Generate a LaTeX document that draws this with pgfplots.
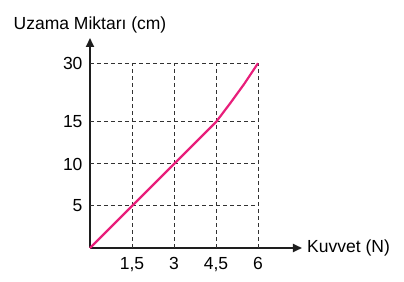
\documentclass[border=0pt]{standalone}
\usepackage{pgfplots}
\pgfplotsset{compat=1.18}
\usepackage{fontspec}
\setmainfont{Liberation Sans}
\usetikzlibrary{arrows.meta}
\definecolor{pinkline}{RGB}{232,30,122}
\definecolor{axisgray}{RGB}{30,30,30}
\definecolor{gridgray}{RGB}{50,50,50}
\begin{document}
\fontsize{17.5}{20}\selectfont
\begin{tikzpicture}[x=1pt,y=1pt]
\useasboundingbox (-90,-33) rectangle (314,248);
\begin{axis}[
  at={(0,0)}, anchor=origin,
  scale only axis, width=212pt, height=210pt,
  xmin=0, xmax=7.57, ymin=0, ymax=25,
  axis lines=left,
  axis line style={line width=1.9pt, color=axisgray, -{Triangle[length=9pt,width=8pt]}},
  xtick={1.5,3,4.5,6}, xticklabels={{1,5},3,{4,5},6},
  ytick={5,10,15,22}, yticklabels={5,10,15,30},
  major tick length=0pt,
  tick style={draw=none},
  /pgf/number format/assume math mode=true,
  ticklabel style={font=\fontsize{17.5}{20}\selectfont, text=black},
  xticklabel style={yshift=-3pt},
  yticklabel style={xshift=-1.5pt},
  xlabel={Kuvvet (N)}, ylabel={Uzama Miktarı (cm)},
  xlabel style={at={(axis description cs:1,0)}, anchor=west, inner sep=0pt, xshift=5pt, font=\fontsize{17.5}{20}\selectfont},
  ylabel style={rotate=-90, at={(axis description cs:0,1)}, anchor=south, inner sep=0pt, yshift=5pt, font=\fontsize{17.5}{20}\selectfont},
  clip=false,
]
\addplot[gridgray, line width=1pt, dash pattern=on 4pt off 3pt] coordinates {(1.5,0) (1.5,22)};
\addplot[gridgray, line width=1pt, dash pattern=on 4pt off 3pt] coordinates {(3,0) (3,22)};
\addplot[gridgray, line width=1pt, dash pattern=on 4pt off 3pt] coordinates {(4.5,0) (4.5,22)};
\addplot[gridgray, line width=1pt, dash pattern=on 4pt off 3pt] coordinates {(6,0) (6,22)};
\addplot[gridgray, line width=1pt, dash pattern=on 4pt off 3pt] coordinates {(0,5) (6,5)};
\addplot[gridgray, line width=1pt, dash pattern=on 4pt off 3pt] coordinates {(0,10) (6,10)};
\addplot[gridgray, line width=1pt, dash pattern=on 4pt off 3pt] coordinates {(0,15) (6,15)};
\addplot[gridgray, line width=1pt, dash pattern=on 4pt off 3pt] coordinates {(0,22) (6,22)};
\addplot[pinkline, line width=2.2pt] coordinates {(0,0) (1.5,5) (3,10) (4.5,15) (5.0,17.2) (5.5,19.5) (6,22)};
\end{axis}
\end{tikzpicture}
\end{document}
